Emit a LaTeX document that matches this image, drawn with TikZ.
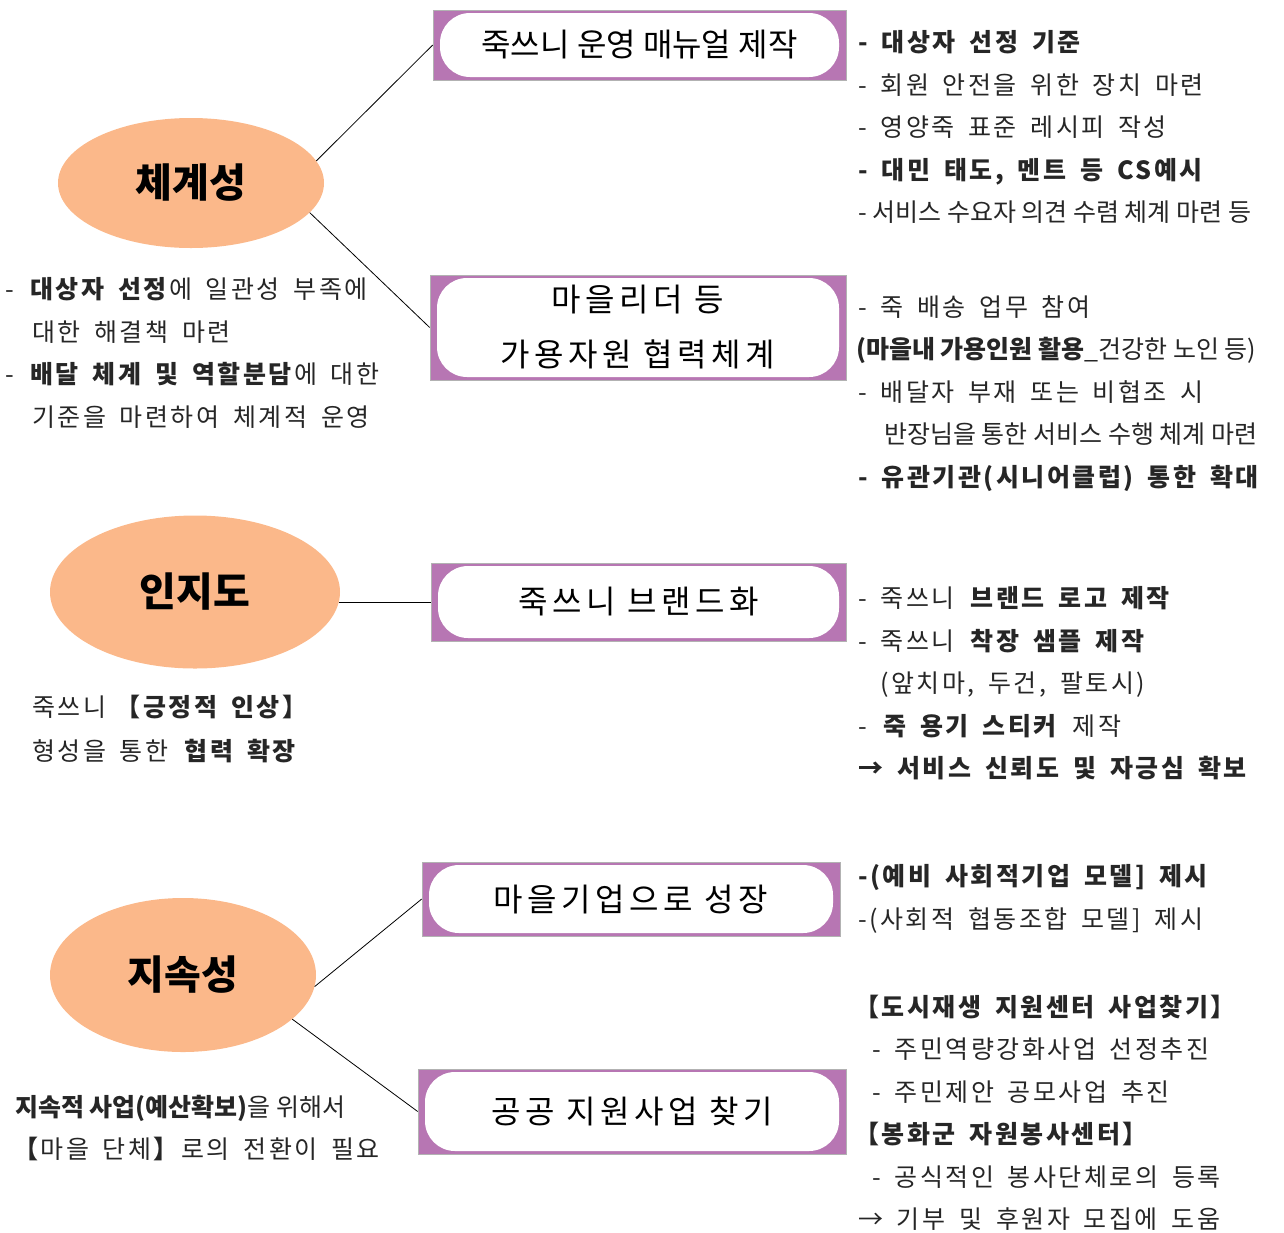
\documentclass[tikz,border=0pt]{standalone}
\usepackage{fontspec}
\setmainfont{Noto Sans CJK KR}
\newfontfamily\loosefont{Noto Sans CJK KR}[LetterSpace=10, WordSpace=1.7]
\newfontfamily\boxfont{Noto Sans CJK KR}[LetterSpace=14]
\usetikzlibrary{shapes.geometric}
\definecolor{peach}{RGB}{251,184,138}
\definecolor{plum}{RGB}{183,118,179}
\begin{document}
\begin{tikzpicture}[x=1pt, y=-1pt,
        goal/.style={ellipse, fill=peach, inner sep=0pt, font=\fontsize{40}{42}\selectfont\bfseries},
        task/.style={rectangle, fill=plum, draw=gray!60, line width=0.6pt, inner sep=0pt, align=center,
            font=\boxfont\fontsize{32}{55}\selectfont,
            path picture={\fill[white, rounded corners=30pt]
                ([shift={(7,3)}]path picture bounding box.north west) rectangle
                ([shift={(-7,-3)}]path picture bounding box.south east);}},
        memo/.style={anchor=north west, inner sep=0pt, align=left, text=black!85,
            font=\loosefont\fontsize{25}{42.5}\selectfont},
        link/.style={line width=0.8pt}
    ]
    \useasboundingbox (0,0) rectangle (1284,1232);
    \clip (0,0) rectangle (1284,1232);

    \node[goal, minimum width=266pt, minimum height=130pt] (sys) at (191,183) {체계성};
    \node[goal, minimum width=290pt, minimum height=153pt] (aware) at (195,592) {인지도};
    \node[goal, minimum width=266pt, minimum height=154pt] (sust) at (183,975) {지속성};

    \node[task, minimum width=413pt, minimum height=70pt] (man) at (639.5,45) {\rmfamily 죽쓰니 운영 매뉴얼 제작};
    \node[task, minimum width=416pt, minimum height=105pt] (coop) at (638,327.5) {마을리더 등\\가용자원 협력체계};
    \node[task, minimum width=415pt, minimum height=78pt] (brand) at (638.5,602) {죽쓰니 브랜드화};
    \node[task, minimum width=418pt, minimum height=74pt] (corp) at (631,899) {마을기업으로 성장};
    \node[task, minimum width=428pt, minimum height=85pt] (fund) at (632,1111.5) {공공 지원사업 찾기};

    \draw[link] (sys.10) -- (man.west);
    \draw[link] (sys.-14) -- (coop.west);
    \draw[link] (aware.-4) -- (aware.-4 -| brand.west);
    \draw[link] (sust.-5) -- (corp.west);
    \draw[link] (sust.-22) -- (fund.west);

    \node[memo] (manlist) at (858,30.5) {
        \textbf{- 대상자 선정 기준}\\
        - 회원 안전을 위한 장치 마련\\
        - 영양죽 표준 레시피 작성\\
        \textbf{- 대민 태도, 멘트 등 CS예시}\\
        {\rmfamily - 서비스 수요자 의견 수렴 체계 마련 등}
    };
    \node[memo] (cooplist) at (856,295.5) {
        \hspace*{2pt}- 죽 배송 업무 참여\\
        {\rmfamily\textbf{(마을내 가용인원 활용}\_건강한 노인 등)}\\
        \hspace*{2pt}- 배달자 부재 또는 비협조 시\\
        \hspace*{28pt}{\rmfamily 반장님을 통한 서비스 수행 체계 마련}\\
        \hspace*{2pt}\textbf{- 유관기관(시니어클럽) 통한 확대}
    };
    \node[memo] (sysnote) at (5,277.5) {
        - \textbf{대상자 선정}에 일관성 부족에\\
        \hspace*{27pt}대한 해결책 마련\\
        - \textbf{배달 체계 및 역할분담}에 대한\\
        \hspace*{27pt}기준을 마련하여 체계적 운영
    };
    \node[memo] (brandlist) at (858,586.5) {
        - 죽쓰니 \textbf{브랜드 로고 제작}\\
        - 죽쓰니 \textbf{착장 샘플 제작}\\
        \hspace*{22pt}(앞치마, 두건, 팔토시)\\
        - \textbf{죽 용기 스티커} 제작\\
        \textbf{→ 서비스 신뢰도 및 자긍심 확보}
    };
    \node[memo, font=\loosefont\fontsize{25}{44}\selectfont] (awarenote) at (32,694.5) {
        죽쓰니\hspace{-4pt} \textbf{【긍정적 인상】}\\
        형성을 통한 \textbf{협력 확장}
    };
    \node[memo] (corplist) at (858,864.5) {
        \textbf{-(예비 사회적기업 모델] 제시}\\
        -(사회적 협동조합 모델] 제시
    };
    \node[memo] (fundlist) at (858,994.5) {
        \hspace*{-4pt}\textbf{【도시재생 지원센터 사업찾기】}\\
        \hspace*{14pt}- 주민역량강화사업 선정추진\\
        \hspace*{14pt}- 주민제안 공모사업 추진\\
        \hspace*{-4pt}\textbf{【봉화군 자원봉사센터】}\\
        \hspace*{14pt}- 공식적인 봉사단체로의 등록\\
        → 기부 및 후원자 모집에 도움
    };
    \node[memo, font=\loosefont\fontsize{25}{42}\selectfont] (sustnote) at (15,1095.5) {
        {\rmfamily\textbf{지속적 사업(예산확보)}을 위해서}\\
        \hspace*{-2pt}\textbf{【}마을 단체\textbf{】}로의 전환이 필요
    };
\end{tikzpicture}
\end{document}
